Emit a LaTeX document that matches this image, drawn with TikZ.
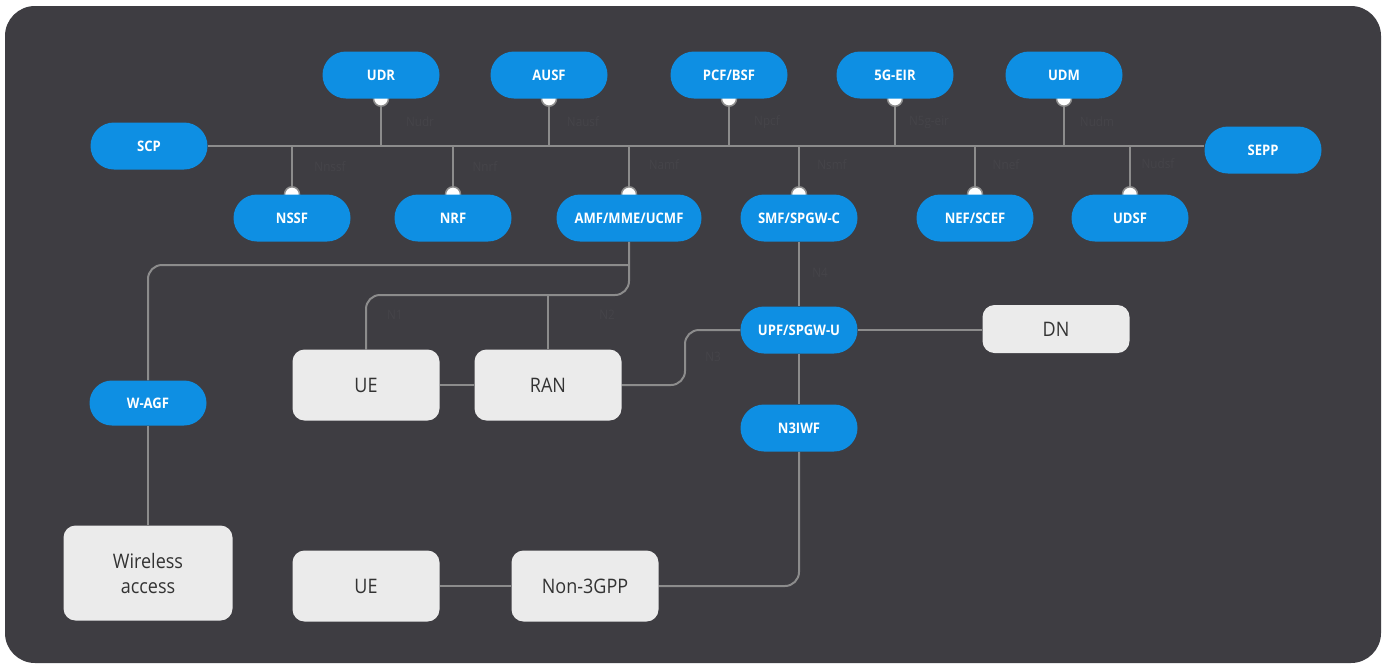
\documentclass[tikz,border=0pt]{standalone}
\usepackage{fontspec}
\setmainfont{Open Sans}[FakeStretch=0.9]
\usetikzlibrary{shapes.misc}
\pgfdeclarelayer{back}
\pgfdeclarelayer{bg}
\pgfsetlayers{back,bg,main}
\definecolor{bgc}{HTML}{3E3D42}
\definecolor{pillc}{HTML}{0E8FE3}
\definecolor{boxc}{HTML}{EBEBEB}
\definecolor{boxtext}{HTML}{333333}
\definecolor{linec}{HTML}{8C8C8C}
\definecolor{faint}{HTML}{454449}
\tikzset{
  pill/.style={rounded rectangle, fill=pillc, text=white, minimum width=117pt, minimum height=47pt, inner sep=0pt, font=\fontsize{14.5}{16}\selectfont\bfseries},
  graybox/.style={rectangle, rounded corners=12pt, fill=boxc, text=boxtext, minimum width=147pt, minimum height=71pt, inner sep=0pt, font=\fontsize{20}{25}\selectfont, align=center},
  conn/.style={draw=linec, line width=2pt},
  roundconn/.style={conn, rounded corners=14pt},
  knob/.style={fill=white, draw=linec, line width=1.5pt},
  faintlab/.style={text=faint, font=\fontsize{13}{15}\selectfont, inner sep=0pt}
}
\begin{document}
\begin{tikzpicture}[x=1pt, y=-1pt]
\useasboundingbox (0,0) rectangle (1385,665);
\begin{pgfonlayer}{back}
\fill[white] (0,0) rectangle (1385,665);
\fill[bgc, rounded corners=30pt] (5,6) rectangle (1381,663);
\end{pgfonlayer}

% network function pills
\node[pill] (scp)  at (149,146) {SCP};
\node[pill] (sepp) at (1263,150) {SEPP};
\node[pill] (udr)  at (381,75) {UDR};
\node[pill] (ausf) at (549,75) {AUSF};
\node[pill] (pcf)  at (729,75) {PCF/BSF};
\node[pill] (eir)  at (895,75) {5G-EIR};
\node[pill] (udm)  at (1064,75) {UDM};
\node[pill] (nssf) at (292,218) {NSSF};
\node[pill] (nrf)  at (453,218) {NRF};
\node[pill, minimum width=145pt] (amf) at (629,218) {AMF/MME/UCMF};
\node[pill] (smf)  at (799,218) {SMF/SPGW-C};
\node[pill] (nef)  at (975,218) {NEF/SCEF};
\node[pill] (udsf) at (1130,218) {UDSF};
\node[pill] (upf)  at (799,330) {UPF/SPGW-U};
\node[pill] (n3iwf) at (799,428) {N3IWF};
\node[pill, minimum height=45pt] (wagf) at (148,403) {W-AGF};

% gray boxes
\node[graybox] (ue1) at (366,385) {UE};
\node[graybox] (ran) at (548,385) {RAN};
\node[graybox, minimum height=48pt] (dn) at (1056,329) {DN};
\node[graybox] (ue2) at (366,586) {UE};
\node[graybox] (non3gpp) at (585,586) {Non-3GPP};
\node[graybox, minimum width=169pt, minimum height=95pt] (wireless) at (148,573) {Wireless\\access};

% helper levels
\coordinate (yA) at (0,265);
\coordinate (yB) at (0,295);
\coordinate (xC) at (685,0);

% faint interface labels
\node[faintlab] (lnudr)  at (420,122) {Nudr};
\node[faintlab] (lnausf) at (583,122) {Nausf};
\node[faintlab] (lnpcf)  at (767,122) {Npcf};
\node[faintlab] (lneir)  at (929,122) {N5g-eir};
\node[faintlab] (lnudm)  at (1097,122) {Nudm};
\node[faintlab] (lnnssf) at (330,167) {Nnssf};
\node[faintlab] (lnnrf)  at (485,167) {Nnrf};
\node[faintlab] (lnamf)  at (664,165) {Namf};
\node[faintlab] (lnsmf)  at (832,165) {Nsmf};
\node[faintlab] (lnnef)  at (1006,165) {Nnef};
\node[faintlab] (lnudsf) at (1158,164) {Nudsf};
\node[faintlab] (ln1) at (395,315) {N1};
\node[faintlab] (ln2) at (607,315) {N2};
\node[faintlab] (ln3) at (713,357) {N3};
\node[faintlab] (ln4) at (820,273) {N4};

\begin{pgfonlayer}{bg}
% service bus
\draw[conn] (scp.east) -- (sepp.west |- scp.east);
\foreach \n in {udr,ausf,pcf,eir,udm,nssf,nrf,amf,smf,nef,udsf}{
  \draw[conn] (\n.center) -- (\n.center |- scp.east);
}
\foreach \n in {udr,ausf,pcf,eir,udm}{
  \draw[knob] (\n.south) circle (7.5pt);
}
\foreach \n in {nssf,nrf,amf,smf,nef,udsf}{
  \draw[knob] (\n.north) circle (7.5pt);
}
% access side
\draw[roundconn] (amf.south) -- (amf.south |- yB) -- (ue1.north |- yB) -- (ue1.north);
\draw[roundconn] (amf.south |- yA) -- (wagf.north |- yA) -- (wagf.north);
\draw[conn] (ran.north) -- (ran.north |- yB);
\draw[conn] (ue1.east) -- (ran.west);
\draw[roundconn] (ran.east) -- (xC |- ran.east) -- (xC |- upf.west) -- (upf.west);
\draw[conn] (smf.south) -- (upf.north);
\draw[conn] (upf.east) -- (dn.west |- upf.east);
\draw[conn] (upf.south) -- (n3iwf.north);
\draw[roundconn] (n3iwf.south) -- (n3iwf.south |- non3gpp.east) -- (non3gpp.east);
\draw[conn] (ue2.east) -- (non3gpp.west);
\draw[conn] (wagf.south) -- (wireless.north);
\end{pgfonlayer}
\end{tikzpicture}
\end{document}
